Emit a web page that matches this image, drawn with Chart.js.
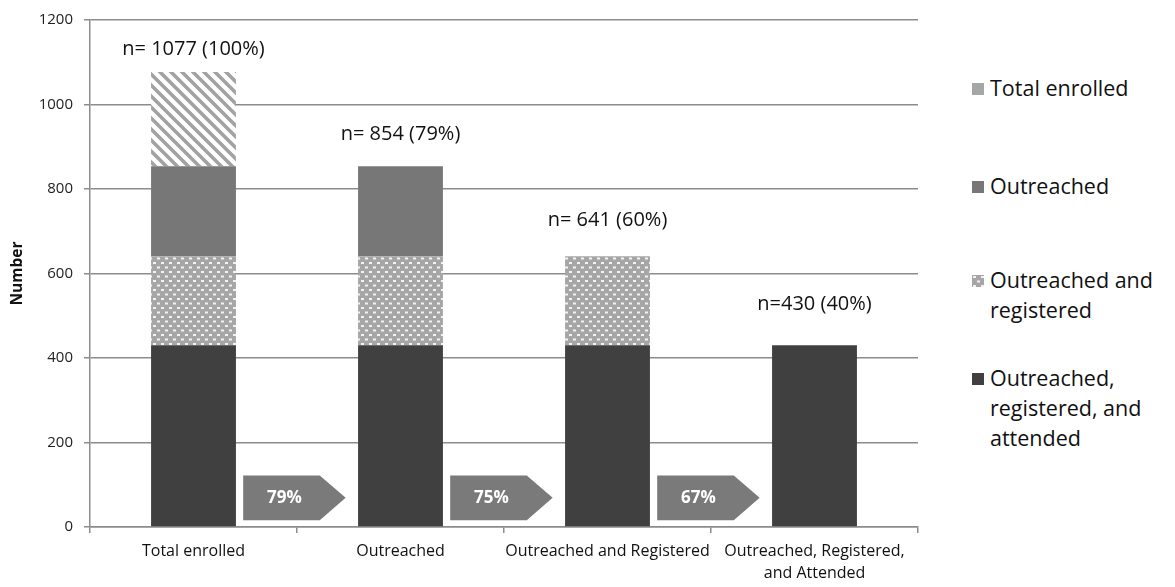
<!DOCTYPE html>
<html>
<head>
<meta charset="utf-8">
<script src="https://cdn.jsdelivr.net/npm/chart.js@4.4.1/dist/chart.umd.min.js"></script>
<style>
  body { margin: 0; background: #fff; font-family: "Open Sans", "Liberation Sans", sans-serif; }
  .wrap { position: relative; width: 1175px; height: 587px; overflow: hidden; }
  #chart { position: absolute; left: 0; top: 0; }
  .legend { position: absolute; left: 972px; top: 0; }
  .legend-item { position: absolute; left: 0; width: 205px; display: flex; align-items: flex-start;
    font-size: 21.5px; line-height: 30px; color: #111; }
  .legend-item canvas { flex: none; margin-top: 10px; margin-right: 6px; }
</style>
</head>
<body>
<div class="wrap">
  <canvas id="chart" width="960" height="587"></canvas>
  <div class="legend" id="legend"></div>
</div>
<script>
// === Data ===
const categories = [
  "Total enrolled",
  "Outreached",
  "Outreached and Registered",
  ["Outreached, Registered,", "and Attended"]
];
const attended   = [430, 430, 430, 430];
const registered = [211, 211, 211, 0];
const outreached = [213, 213, 0, 0];
const enrolled   = [223, 0, 0, 0];

const barLabels  = ["n= 1077 (100%)", "n= 854 (79%)", "n= 641 (60%)", "n=430 (40%)"];
const labelY     = [1130, 929, 727, 526];
const stepPct    = ["79%", "75%", "67%"];

const yTicks = { min: 0, max: 1200, step: 200 };

const FONT = "'Open Sans', 'Liberation Sans', sans-serif";

// === Patterns ===
function hatchPattern() {
  const c = document.createElement("canvas");
  c.width = 11; c.height = 11;
  const g = c.getContext("2d");
  g.fillStyle = "#fff";
  g.fillRect(0, 0, 11, 11);
  g.strokeStyle = "#a2a2a2";
  g.lineWidth = 3.6;
  g.beginPath();
  g.moveTo(-3, -3); g.lineTo(14, 14);
  g.moveTo(-3, 8); g.lineTo(3, 14);
  g.moveTo(8, -3); g.lineTo(14, 3);
  g.stroke();
  return g.createPattern(c, "repeat");
}

function dotPattern() {
  const c = document.createElement("canvas");
  c.width = 8; c.height = 9;
  const g = c.getContext("2d");
  g.fillStyle = "#a6a6a6";
  g.fillRect(0, 0, 8, 9);
  g.fillStyle = "#f2f2f2";
  g.fillRect(1, 1, 3, 2);
  g.fillRect(5, 5.5, 3, 2);
  return g.createPattern(c, "repeat");
}

const hatch = hatchPattern();
const dots = dotPattern();

// === Plugins ===
const annotations = {
  id: "annotations",
  afterDatasetsDraw(chart) {
    const { ctx, scales: { x, y } } = chart;
    const catW = x.getPixelForValue(1) - x.getPixelForValue(0);

    // n= labels above each bar
    ctx.save();
    ctx.fillStyle = "#111";
    ctx.font = "20px " + FONT;
    ctx.textAlign = "center";
    ctx.textBaseline = "middle";
    barLabels.forEach((t, i) => {
      ctx.fillText(t, x.getPixelForValue(i), y.getPixelForValue(labelY[i]));
    });

    // conversion chevrons between bars
    const top = y.getPixelForValue(122);
    const bot = y.getPixelForValue(16);
    const mid = (top + bot) / 2;
    stepPct.forEach((t, i) => {
      const b = (x.getPixelForValue(i) + x.getPixelForValue(i + 1)) / 2;
      const left = b - catW * 0.26;
      const body = b + catW * 0.11;
      const tip = b + catW * 0.235;
      ctx.fillStyle = "#7a7a7a";
      ctx.beginPath();
      ctx.moveTo(left, top);
      ctx.lineTo(body, top);
      ctx.lineTo(tip, mid);
      ctx.lineTo(body, bot);
      ctx.lineTo(left, bot);
      ctx.closePath();
      ctx.fill();
      ctx.fillStyle = "#fff";
      ctx.font = "bold 17px " + FONT;
      ctx.fillText(t, (left + body) / 2 + 3, mid);
    });
    ctx.restore();
  }
};

// === Chart ===
const chart = new Chart(document.getElementById("chart"), {
  type: "bar",
  data: {
    labels: categories,
    datasets: [
      { label: "Outreached, registered, and attended", data: attended, backgroundColor: "#404040" },
      { label: "Outreached and registered", data: registered, backgroundColor: dots },
      { label: "Outreached", data: outreached, backgroundColor: "#777777" },
      { label: "Total enrolled", data: enrolled, backgroundColor: hatch }
    ]
  },
  options: {
    responsive: false,
    animation: false,
    layout: { padding: { top: 14, right: 42, left: 0, bottom: 0 } },
    datasets: { bar: { categoryPercentage: 1, barPercentage: 0.41, borderWidth: 0 } },
    plugins: { legend: { display: false }, tooltip: { enabled: false } },
    scales: {
      x: {
        stacked: true,
        afterFit(s) { s.height = 60; },
        grid: { offset: true, drawOnChartArea: false, color: "#8c8c8c", lineWidth: 1.5, tickLength: 6 },
        border: { color: "#8c8c8c", width: 1.5 },
        ticks: {
          maxRotation: 0, autoSkip: false, padding: 8, color: "#111",
          font: { family: FONT, size: 16, lineHeight: 1.35 }
        }
      },
      y: {
        stacked: true,
        min: yTicks.min, max: yTicks.max,
        afterFit(s) { s.width = 90; },
        grid: { color: "#8c8c8c", lineWidth: 1.5, tickLength: 6 },
        border: { color: "#8c8c8c", width: 1.5 },
        ticks: {
          stepSize: yTicks.step, padding: 11, color: "#222",
          callback: v => String(v),
          font: { family: FONT, size: 15 }
        },
        title: {
          display: true, text: "Number", color: "#111",
          padding: { top: 8, bottom: 0 },
          font: { family: FONT, size: 15.5, weight: "bold" }
        }
      }
    }
  },
  plugins: [annotations]
});

// === HTML legend ===
function buildLegend() {
  const legend = document.getElementById("legend");
  const items = [
    { text: ["Total enrolled"], fill: "#a6a6a6", top: 73 },
    { text: ["Outreached"], fill: "#777777", top: 171 },
    { text: ["Outreached and", "registered"], fill: dots, top: 265 },
    { text: ["Outreached,", "registered, and", "attended"], fill: "#404040", top: 363 }
  ];
  items.forEach(it => {
    const row = document.createElement("div");
    row.className = "legend-item";
    row.style.top = it.top + "px";
    const sw = document.createElement("canvas");
    sw.width = 12; sw.height = 12;
    const g = sw.getContext("2d");
    g.fillStyle = it.fill;
    g.fillRect(0, 0, 12, 12);
    const label = document.createElement("div");
    label.innerHTML = it.text.join("<br>");
    row.appendChild(sw);
    row.appendChild(label);
    legend.appendChild(row);
  });
}

buildLegend();
</script>
</body>
</html>
